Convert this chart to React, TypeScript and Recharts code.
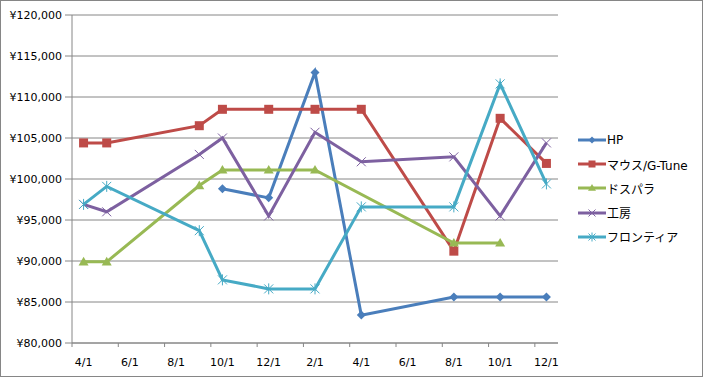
import React from "react"
import { LineChart, Line, XAxis, YAxis, CartesianGrid } from "recharts"

// 調査日（月単位）
const dates = ["2012-04", "2012-05", "2012-09", "2012-10", "2012-12", "2013-02", "2013-04", "2013-08", "2013-10", "2013-12"]

// 各ショップの価格
const hp = [null, null, null, 98800, 97700, 113000, 83400, 85600, 85600, 85600]
const mouse = [104400, 104400, 106500, 108500, 108500, 108500, 108500, 91200, 107400, 101900]
const dospara = [89900, 89900, 99200, 101100, 101100, 101100, null, 92200, 92200, null]
const koubou = [96900, 96000, 103000, 105000, 95500, 105700, 102100, 102700, 95500, 104400]
const frontier = [96900, 99100, 93700, 87700, 86600, 86600, 96600, 96600, 111600, 99400]

const tickMonths = [0, 2, 4, 6, 8, 10, 12, 14, 16, 18, 20]
const tickLabels = ["4/1", "6/1", "8/1", "10/1", "12/1", "2/1", "4/1", "6/1", "8/1", "10/1", "12/1"]
const yTicks = [80000, 85000, 90000, 95000, 100000, 105000, 110000, 115000, 120000]

const series = [
  { key: "hp", name: "HP", values: hp, color: "#4A7EBB", shape: "diamond" },
  { key: "mouse", name: "マウス/G-Tune", values: mouse, color: "#BE4B48", shape: "square" },
  { key: "dospara", name: "ドスパラ", values: dospara, color: "#98B954", shape: "triangle" },
  { key: "koubou", name: "工房", values: koubou, color: "#7D60A0", shape: "x" },
  { key: "frontier", name: "フロンティア", values: frontier, color: "#46AAC5", shape: "star" },
]

const W = 703
const H = 377
const LEFT = 72
const RIGHT = 145
const MONTHS = 21
const HALF = (W - LEFT - RIGHT) / MONTHS / 2
const FONT = "'DejaVu Sans', 'Noto Sans CJK JP', sans-serif"
const GRID = "#868686"

const monthOffset = (d: string) => {
  const [y, m] = d.split("-").map(Number)
  const [y0, m0] = dates[0].split("-").map(Number)
  return (y - y0) * 12 + (m - m0)
}

const data = dates.map((d, i) => {
  const row: any = { m: monthOffset(d) + 0.5 }
  series.forEach((s) => {
    row[s.key] = s.values[i]
  })
  return row
})

function Marker({ cx, cy, shape, color, r = 4.5 }: any) {
  if (cx == null || cy == null) return null
  switch (shape) {
    case "diamond":
      return <path d={`M${cx},${cy - r}L${cx + r},${cy}L${cx},${cy + r}L${cx - r},${cy}Z`} fill={color} />
    case "square":
      return <rect x={cx - r} y={cy - r} width={2 * r} height={2 * r} fill={color} />
    case "triangle":
      return <path d={`M${cx},${cy - r - 0.5}L${cx + r + 0.5},${cy + r * 0.8}L${cx - r - 0.5},${cy + r * 0.8}Z`} fill={color} />
    case "x":
      return (
        <path d={`M${cx - r},${cy - r}L${cx + r},${cy + r}M${cx + r},${cy - r}L${cx - r},${cy + r}`} stroke={color} strokeWidth={1} fill="none" />
      )
    case "star":
      return (
        <path
          d={`M${cx - r},${cy - r}L${cx + r},${cy + r}M${cx + r},${cy - r}L${cx - r},${cy + r}M${cx},${cy - r - 1}L${cx},${cy + r + 1}`}
          stroke={color}
          strokeWidth={1}
          fill="none"
        />
      )
  }
  return null
}

function XTick(props: any) {
  const { x, y, payload } = props
  const idx = tickMonths.indexOf(payload.value)
  return (
    <text x={x + HALF} y={y + 17} textAnchor="middle" fontSize={11} fontFamily={FONT} fill="#000">
      {tickLabels[idx]}
    </text>
  )
}

export default function App() {
  return (
    <div style={{ position: "relative", width: W, height: H, background: "#fff" }}>
      <style>{`body{margin:0}`}</style>
      <LineChart width={W} height={H} data={data} margin={{ top: 15, right: RIGHT, bottom: 0, left: 0 }}>
        <CartesianGrid vertical={false} stroke={GRID} />
        <XAxis
          type="number"
          dataKey="m"
          domain={[0, MONTHS]}
          ticks={tickMonths}
          tick={<XTick />}
          height={34}
          tickSize={4}
          stroke={GRID}
          interval={0}
        />
        <YAxis
          domain={[80000, 120000]}
          ticks={yTicks}
          width={LEFT}
          tickSize={7}
          tickMargin={3}
          stroke={GRID}
          tick={{ fontSize: 11, fontFamily: FONT, fill: "#000" }}
          tickFormatter={(v: number) => "¥" + v.toLocaleString("en-US")}
          interval={0}
        />
        {series.map((s) => (
          <Line
            key={s.key}
            type="linear"
            dataKey={s.key}
            name={s.name}
            stroke={s.color}
            strokeWidth={3}
            connectNulls
            isAnimationActive={false}
            dot={(p: any) => <Marker key={`${s.key}-${p.index}`} cx={p.cx} cy={p.cy} shape={s.shape} color={s.color} />}
            activeDot={false}
          />
        ))}
      </LineChart>
      <div style={{ position: "absolute", left: 578, top: 128, fontFamily: FONT, fontSize: 12 }}>
        {series.map((s) => (
          <div key={s.key} style={{ display: "flex", alignItems: "center", height: 24.2 }}>
            <svg width={29} height={12} style={{ flex: "none" }}>
              <line x1={0} y1={6} x2={28} y2={6} stroke={s.color} strokeWidth={3} />
              <Marker cx={14} cy={6} shape={s.shape} color={s.color} r={3.5} />
            </svg>
            <span style={{ whiteSpace: "nowrap" }}>{s.name}</span>
          </div>
        ))}
      </div>
      <div style={{ position: "absolute", inset: 0, border: `1px solid ${GRID}`, boxSizing: "border-box", pointerEvents: "none" }} />
    </div>
  )
}
